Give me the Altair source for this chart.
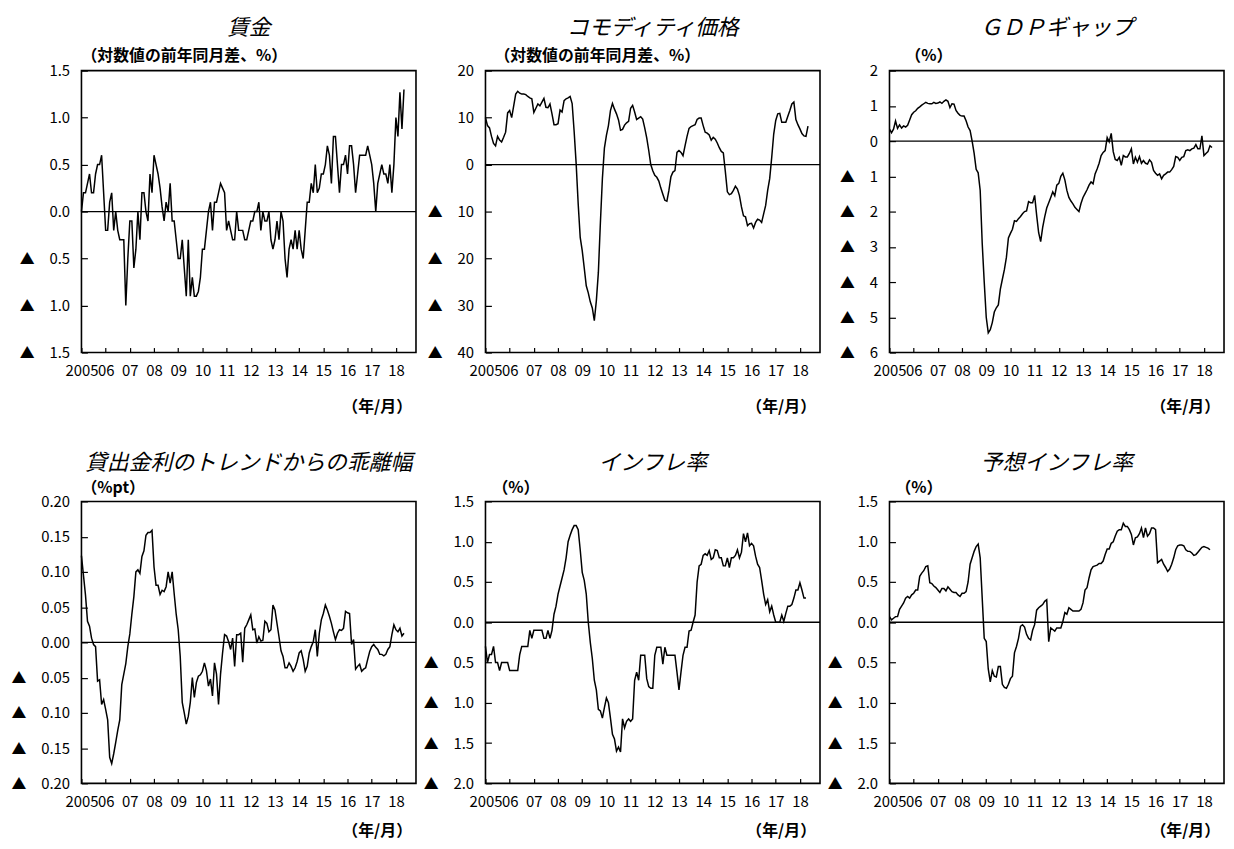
import altair as alt
import pandas as pd

FONT = "Noto Sans CJK JP"
START_YEAR = 2005
X_MAX = 2018.83
YEAR_TICKS = list(range(2005, 2019))

# ---- series (monthly, from Jan 2005) ----
wage = [
    0.0, 0.2, 0.2, 0.3, 0.4, 0.2, 0.2, 0.4, 0.5, 0.5, 0.6, 0.2,
    -0.2, -0.2, 0.1, 0.2, -0.2, 0.0, -0.2, -0.3, -0.3, -0.3, -1.0, -0.5,
    -0.1, -0.1, -0.6, -0.4, 0.0, -0.3, 0.2, 0.2, 0.0, -0.1, 0.4, 0.2,
    0.6, 0.5, 0.4, 0.25, 0.05, -0.1, 0.1, 0.0, 0.3, -0.1, -0.1, -0.3,
    -0.5, -0.5, -0.3, -0.6, -0.9, -0.3, -0.9, -0.7, -0.9, -0.9, -0.85, -0.7,
    -0.4, -0.4, -0.2, 0.0, 0.1, -0.2, 0.1, 0.1, 0.2, 0.3, 0.25, 0.2,
    -0.2, -0.1, -0.2, -0.3, -0.3, 0.0, -0.2, -0.2, -0.2, -0.3, -0.3, -0.2,
    -0.1, -0.1, 0.0, 0.0, 0.1, -0.2, 0.0, -0.1, -0.1, 0.0, -0.3, -0.4,
    -0.3, -0.1, -0.3, 0.0, -0.1, -0.5, -0.7, -0.4, -0.3, -0.4, -0.2, -0.4,
    -0.2, -0.4, -0.5, -0.2, 0.1, 0.1, 0.3, 0.2, 0.5, 0.2, 0.25, 0.4,
    0.4, 0.5, 0.7, 0.6, 0.3, 0.8, 0.8, 0.5, 0.2, 0.5, 0.5, 0.6,
    0.4, 0.7, 0.7, 0.5, 0.2, 0.4, 0.6, 0.6, 0.6, 0.6, 0.7, 0.6,
    0.5, 0.3, 0.0, 0.3, 0.4, 0.5, 0.4, 0.4, 0.3, 0.5, 0.2, 0.5,
    1.0, 0.8, 1.27, 0.88, 1.3,
]

commodity = [
    10.0, 8.3, 7.8, 6.0, 4.5, 4.0, 6.0, 5.2, 4.8, 5.8, 6.9, 11.0,
    11.5, 10.0, 12.5, 15.0, 15.6, 15.2, 15.0, 15.0, 14.9, 14.5, 14.2, 14.0,
    11.1, 12.0, 12.9, 12.5, 13.3, 14.1, 12.2, 12.1, 12.9, 10.8, 8.5, 8.5,
    8.7, 11.6, 11.2, 13.6, 14.0, 14.2, 14.5, 13.0, 7.0, 0.1, -8.4, -15.5,
    -18.3, -22.0, -25.8, -27.3, -29.2, -30.5, -33.2, -29.0, -23.0, -12.5, -3.0, 3.5,
    6.2, 8.3, 11.5, 13.0, 11.8, 10.8, 9.5, 7.3, 7.5, 8.4, 8.9, 9.2,
    12.0, 12.6, 11.2, 9.6, 9.9, 10.2, 9.7, 7.8, 5.7, 3.0, 0.0, -1.3,
    -2.3, -2.7, -3.5, -5.0, -6.3, -7.6, -7.8, -5.5, -2.6, -1.6, -1.3, 2.6,
    3.0, 2.6, 1.9, 4.0, 6.0, 7.7, 8.1, 8.3, 8.5, 9.6, 9.9, 9.9,
    8.3, 6.9, 6.7, 6.3, 5.2, 5.8, 5.4, 4.6, 3.6, 2.8, 2.5, -1.5,
    -5.8, -6.4, -6.2, -5.5, -4.6, -5.2, -6.6, -9.0, -10.9, -11.1, -13.0, -12.6,
    -12.5, -13.5, -12.3, -11.6, -11.8, -12.3, -10.5, -8.7, -5.5, -3.0, 1.5, 6.5,
    9.4, 10.8, 10.9, 9.0, 9.0, 9.0, 10.3, 11.5, 12.9, 13.3, 9.6, 8.5,
    7.6, 6.6, 6.1, 6.0, 8.2,
]

gdp_gap = [
    0.34, 0.24, 0.34, 0.57, 0.36, 0.46, 0.37, 0.43, 0.40, 0.45, 0.60, 0.75,
    0.82, 0.86, 0.93, 0.97, 1.02, 1.06, 1.10, 1.07, 1.06, 1.06, 1.10, 1.07,
    1.08, 1.11, 1.07, 1.13, 1.17, 1.13, 0.95, 1.06, 1.05, 0.87, 0.79, 0.73,
    0.71, 0.71, 0.58, 0.40, 0.30, 0.00, -0.35, -0.80, -0.90, -1.40, -2.90, -4.00,
    -5.00, -5.44, -5.35, -5.15, -4.85, -4.73, -4.65, -4.20, -3.92, -3.65, -3.30, -2.75,
    -2.62, -2.50, -2.26, -2.28, -2.20, -2.14, -2.06, -2.00, -1.98, -1.72, -1.75, -1.75,
    -1.54, -2.10, -2.60, -2.85, -2.45, -2.15, -1.90, -1.75, -1.60, -1.44, -1.55, -1.25,
    -1.20, -1.00, -0.91, -1.10, -1.40, -1.60, -1.70, -1.78, -1.88, -1.94, -2.00, -1.77,
    -1.60, -1.49, -1.38, -1.25, -1.16, -1.21, -0.93, -0.79, -0.63, -0.41, -0.32, -0.27,
    0.10, -0.02, 0.22, -0.30, -0.52, -0.55, -0.46, -0.69, -0.41, -0.45, -0.45, -0.35,
    -0.22, -0.65, -0.46, -0.60, -0.44, -0.63, -0.55, -0.63, -0.65, -0.53, -0.60, -0.83,
    -0.91, -0.97, -0.93, -1.07, -0.97, -0.93, -0.88, -0.88, -0.81, -0.72, -0.44, -0.46,
    -0.55, -0.46, -0.44, -0.27, -0.25, -0.27, -0.22, -0.20, -0.10, -0.22, -0.22, 0.15,
    -0.41, -0.35, -0.30, -0.13, -0.18,
]

lending_gap = [
    0.123, 0.095, 0.067, 0.030, 0.023, 0.006, -0.003, -0.006, -0.055, -0.053, -0.088, -0.081,
    -0.095, -0.110, -0.163, -0.172, -0.158, -0.142, -0.125, -0.110, -0.060, -0.045, -0.030, -0.006,
    0.012, 0.040, 0.065, 0.100, 0.103, 0.098, 0.122, 0.130, 0.152, 0.156, 0.156, 0.159,
    0.107, 0.081, 0.081, 0.068, 0.074, 0.072, 0.079, 0.100, 0.084, 0.100, 0.069, 0.040,
    0.018, -0.020, -0.085, -0.100, -0.116, -0.105, -0.085, -0.050, -0.078, -0.057, -0.048, -0.046,
    -0.041, -0.029, -0.040, -0.062, -0.052, -0.076, -0.029, -0.045, -0.088, -0.045, -0.015, 0.011,
    0.009, 0.001, -0.010, 0.006, -0.034, 0.011, 0.011, 0.013, -0.028, 0.020, 0.025, 0.032,
    0.039, 0.018, 0.019, -0.001, 0.008, 0.002, 0.003, 0.030, 0.027, 0.015, 0.018, 0.053,
    0.046, 0.027, 0.008, -0.012, -0.020, -0.036, -0.036, -0.029, -0.034, -0.041, -0.036, -0.027,
    -0.015, -0.012, -0.024, -0.041, -0.034, -0.015, -0.006, 0.001, 0.018, -0.020, 0.013, 0.032,
    0.041, 0.053, 0.046, 0.037, 0.027, 0.015, 0.004, 0.013, 0.018, 0.017, 0.020, 0.044,
    0.042, 0.041, -0.003, 0.004, -0.038, -0.034, -0.031, -0.041, -0.038, -0.036, -0.024, -0.013,
    -0.006, -0.003, -0.007, -0.010, -0.017, -0.017, -0.019, -0.017, -0.010, -0.006, 0.011, 0.025,
    0.018, 0.015, 0.020, 0.009, 0.013,
]

inflation = [
    -0.3, -0.5, -0.4, -0.4, -0.3, -0.5, -0.5, -0.6, -0.5, -0.5, -0.5, -0.5,
    -0.6, -0.6, -0.6, -0.6, -0.6, -0.4, -0.3, -0.3, -0.3, -0.3, -0.1, -0.2,
    -0.1, -0.1, -0.1, -0.1, -0.1, -0.2, -0.2, -0.1, -0.2, -0.1, 0.1, 0.2,
    0.35, 0.45, 0.55, 0.65, 0.8, 1.0, 1.08, 1.15, 1.2, 1.2, 1.15, 0.9,
    0.62, 0.52, 0.35, 0.0, -0.25, -0.45, -0.72, -0.84, -1.08, -1.1, -1.19, -1.06,
    -0.94, -1.0, -1.19, -1.39, -1.45, -1.6, -1.55, -1.61, -1.2, -1.31, -1.23, -1.2,
    -1.23, -1.2, -0.72, -0.62, -0.72, -0.41, -0.41, -0.41, -0.7, -0.8, -0.82, -0.82,
    -0.41, -0.31, -0.31, -0.31, -0.52, -0.31, -0.41, -0.41, -0.41, -0.41, -0.41, -0.62,
    -0.84, -0.62, -0.41, -0.31, -0.31, -0.11, -0.1, 0.0, 0.09, 0.5, 0.7, 0.72,
    0.83, 0.85, 0.83, 0.89, 0.78, 0.8, 0.9, 0.89, 0.8, 0.8, 0.7, 0.7,
    0.8, 0.68, 0.8, 0.8, 0.83, 0.9, 0.8, 0.87, 1.1, 1.0, 1.11, 0.95,
    0.98, 0.95, 0.82, 0.72, 0.68, 0.52, 0.35, 0.22, 0.28, 0.13, 0.2, 0.09,
    0.0, 0.0, 0.0, 0.09, 0.01, 0.11, 0.2, 0.2, 0.22, 0.3, 0.4, 0.4,
    0.49, 0.4, 0.3, 0.3,
]

expected_inflation = [
    0.07, 0.03, 0.05, 0.07, 0.07, 0.16, 0.2, 0.24, 0.3, 0.32, 0.3, 0.34,
    0.36, 0.4, 0.4, 0.57, 0.61, 0.64, 0.69, 0.7, 0.49, 0.48, 0.45, 0.43,
    0.4, 0.37, 0.42, 0.42, 0.39, 0.44, 0.41, 0.38, 0.37, 0.37, 0.34, 0.32,
    0.36, 0.36, 0.38, 0.5, 0.72, 0.8, 0.88, 0.94, 0.97, 0.8, 0.3, -0.2,
    -0.24, -0.58, -0.74, -0.6, -0.67, -0.68, -0.55, -0.55, -0.77, -0.81, -0.82, -0.77,
    -0.7, -0.67, -0.38, -0.3, -0.2, -0.05, -0.03, -0.06, -0.15, -0.2, -0.22, -0.1,
    -0.03, 0.15, 0.18, 0.2, 0.22, 0.26, 0.28, -0.24, -0.07, -0.09, -0.11, -0.07,
    -0.07, -0.07, 0.01, 0.12, 0.1, 0.18, 0.16, 0.14, 0.14, 0.14, 0.14, 0.16,
    0.24, 0.4, 0.43, 0.55, 0.65, 0.69, 0.7, 0.71, 0.73, 0.73, 0.76, 0.84,
    0.91, 0.91, 0.98, 1.0, 1.07, 1.13, 1.15, 1.15, 1.23, 1.19, 1.19, 1.15,
    1.09, 0.96, 1.05, 1.06, 1.1, 1.17, 1.05, 1.17, 1.07, 1.1, 1.17, 1.17,
    1.15, 0.74, 0.76, 0.78, 0.72, 0.68, 0.63, 0.66, 0.72, 0.8, 0.9, 0.95,
    0.96, 0.96, 0.95, 0.9, 0.88, 0.88, 0.86, 0.83, 0.84, 0.87, 0.9, 0.93,
    0.94, 0.93, 0.92, 0.9,
]

titles = ["賃金", "コモディティ価格", "ＧＤＰギャップ",
          "貸出金利のトレンドからの乖離幅", "インフレ率", "予想インフレ率"]
units = ["（対数値の前年同月差、%）", "（対数値の前年同月差、%）", "（%）",
         "（%pt）", "（%）", "（%）"]
x_unit = "（年/月）"

y_ticks = [
    [1.5, 1.0, 0.5, 0.0, -0.5, -1.0, -1.5],
    [20, 10, 0, -10, -20, -30, -40],
    [2, 1, 0, -1, -2, -3, -4, -5, -6],
    [0.2, 0.15, 0.1, 0.05, 0.0, -0.05, -0.1, -0.15, -0.2],
    [1.5, 1.0, 0.5, 0.0, -0.5, -1.0, -1.5, -2.0],
    [1.5, 1.0, 0.5, 0.0, -0.5, -1.0, -1.5, -2.0],
]
y_formats = [".1f", "d", "d", ".2f", ".1f", ".1f"]
series = [wage, commodity, gdp_gap, lending_gap, inflation, expected_inflation]

W, H = 337, 284
unit_dx = [0, 9, 16, 0, 7, 6]
title_dy = [43, 43, 43, 39, 39, 39]
unit_dy = [15, 15, 15, 14, 14, 14]
ym_dy = [55, 55, 55, 48, 48, 48]


def one(s):
    return pd.DataFrame({"s": [s]})


def panel(i):
    vals = series[i]
    df = pd.DataFrame({"t": [START_YEAR + k / 12 for k in range(len(vals))], "v": vals})
    ticks = y_ticks[i]
    fmt = y_formats[i]
    x = alt.X(
        "t:Q",
        scale=alt.Scale(domain=[START_YEAR, X_MAX], nice=False, zero=False),
        axis=alt.Axis(values=YEAR_TICKS, title=None, grid=False, domain=False,
                      labelExpr="datum.value == 2005 ? '2005' : format(datum.value % 100, '02d')",
                      tickSize=5, offset=-5, labelPadding=11,
                      labelOverlap=False, labelFlush=False),
    )
    label_expr = (f"datum.value < 0 ? '\u25b2\u2003' + format(-datum.value, '{fmt}')"
                  f" : format(datum.value, '{fmt}')")
    y = alt.Y(
        "v:Q",
        scale=alt.Scale(domain=[min(ticks), max(ticks)], nice=False, zero=False),
        axis=alt.Axis(values=ticks, title=None, grid=False, domain=False,
                      labelExpr=label_expr, tickSize=6, offset=-6, labelPadding=12,
                      labelOverlap=False, labelFlush=False),
    )
    line = alt.Chart(df).mark_line(color="black", strokeWidth=1.5).encode(x=x, y=y)
    zero = alt.Chart(pd.DataFrame({"v": [0]})).mark_rule(
        color="black", strokeWidth=1.3).encode(y=y)
    ttl = alt.Chart(one(titles[i])).mark_text(
        font=FONT, fontSize=22, fontStyle="italic", align="center",
        baseline="middle", color="black").encode(
        x=alt.value(W / 2), y=alt.value(-title_dy[i]), text="s:N")
    unt = alt.Chart(one(units[i])).mark_text(
        font=FONT, fontSize=16, fontWeight="bold", align="left", baseline="middle",
        color="black").encode(
        x=alt.value(unit_dx[i]), y=alt.value(-unit_dy[i]), text="s:N")
    ym = alt.Chart(one(x_unit)).mark_text(
        font=FONT, fontSize=16, fontWeight="bold", align="right", baseline="middle",
        color="black").encode(
        x=alt.value(W - 4), y=alt.value(H + ym_dy[i]), text="s:N")
    return alt.layer(line, zero, ttl, unt, ym).properties(width=W, height=H)


chart = alt.concat(
    *[panel(i) for i in range(6)],
    columns=3,
    spacing={"row": 150, "column": 70},
    bounds="flush",
).properties(
    padding={"left": 2, "top": 5, "right": 0, "bottom": 0},
    background="white",
).configure_view(
    stroke="black", strokeWidth=1.6
).configure_axis(
    labelFont=FONT, labelFontSize=15, labelColor="black",
    tickColor="black", tickWidth=1.2,
)

chart.save("out.html", embed_options={"renderer": "svg", "actions": False})
